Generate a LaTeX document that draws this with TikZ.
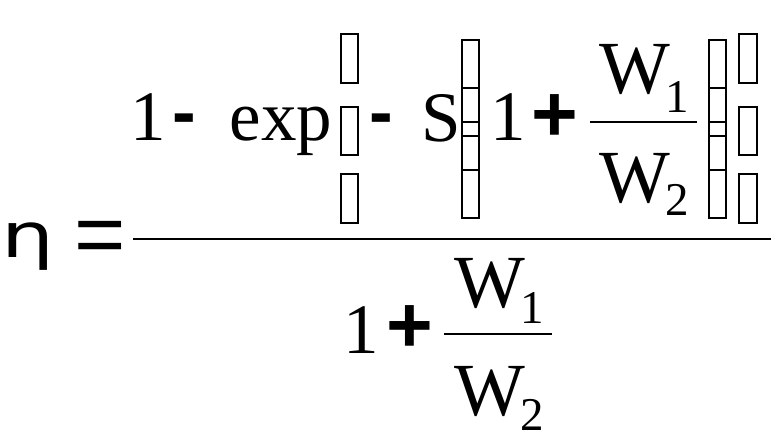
\documentclass[tikz,border=0pt]{standalone}
\usepackage{fontspec}
\setmainfont{Liberation Serif}
\newfontfamily\opfont{Liberation Sans}
\newfontfamily\etafont{DejaVu Sans}
\begin{document}
\begin{tikzpicture}[x=1pt,y=-1pt,
  txt/.style={inner sep=0pt,anchor=base,font=\fontsize{71pt}{80pt}\selectfont},
  wtxt/.style={inner sep=0pt,anchor=base,font=\fontsize{75pt}{84pt}\selectfont},
  subtxt/.style={inner sep=0pt,anchor=base,font=\fontsize{47pt}{52pt}\selectfont},
  optxt/.style={inner sep=0pt,anchor=base,font=\opfont\bfseries\fontsize{71pt}{80pt}\selectfont},
  plustxt/.style={inner sep=0pt,anchor=base,font=\opfont\bfseries\fontsize{80pt}{88pt}\selectfont},
  eqtxt/.style={inner sep=0pt,anchor=base,font=\opfont\fontsize{88pt}{96pt}\selectfont},
  etatxt/.style={inner sep=0pt,anchor=base,font=\etafont\fontsize{62pt}{70pt}\selectfont},
  gbox/.style={draw,line width=1.7pt},
  fracline/.style={line width=1.3pt}]
\useasboundingbox (0,0) rectangle (784,445);
% left side
\node[etatxt] (eta) at (28,257) {\scalebox{1.35}[1]{η}};
\node[eqtxt] (eq) at (100,264) {=};
% main fraction line
\coordinate (mL) at (133,239);
\coordinate (mR) at (771,239);
\draw[fracline] (mL) -- (mR);
% numerator
\node[txt] (n1) at (148,140) {1};
\node[optxt] (m1) at (184.5,136) {-};
\node[txt] (exp) at (281,140) {exp};
\foreach \ya/\yb in {34/83,107/155,174/223}{
  \draw[gbox] (341,\ya) rectangle (358,\yb);
  \draw[gbox] (739,\ya) rectangle (757,\yb);
}
\node[optxt] (m2) at (381,136) {-};
\node[txt] (S) at (441,141) {S};
\foreach \xa/\xb in {462/479,709/726}{
  \draw[gbox] (\xa,40) rectangle (\xb,218);
  \foreach \yy in {88,122,136,170}{\draw[gbox] (\xa,\yy) -- (\xb,\yy);}
}
\node[txt] (n2) at (508,140) {1};
\node[plustxt] (p1) at (555,141) {+};
\coordinate (iL) at (590,122);
\coordinate (iR) at (697,122);
\draw[fracline] (iL) -- (iR);
\node[wtxt] (nW1) at (635,93) {W};
\node[subtxt] (nW1s) at (677,112) {1};
\node[wtxt] (nW2) at (635,202) {W};
\node[subtxt] (nW2s) at (677,215) {2};
% denominator
\node[txt] (d1) at (361,353) {1};
\node[plustxt] (p2) at (409.5,352) {+};
\coordinate (dL) at (444,334);
\coordinate (dR) at (552,334);
\draw[fracline] (dL) -- (dR);
\node[wtxt] (dW1) at (490,307) {W};
\node[subtxt] (dW1s) at (532,323) {1};
\node[wtxt] (dW2) at (490,415) {W};
\node[subtxt] (dW2s) at (532,430) {2};
\end{tikzpicture}
\end{document}
